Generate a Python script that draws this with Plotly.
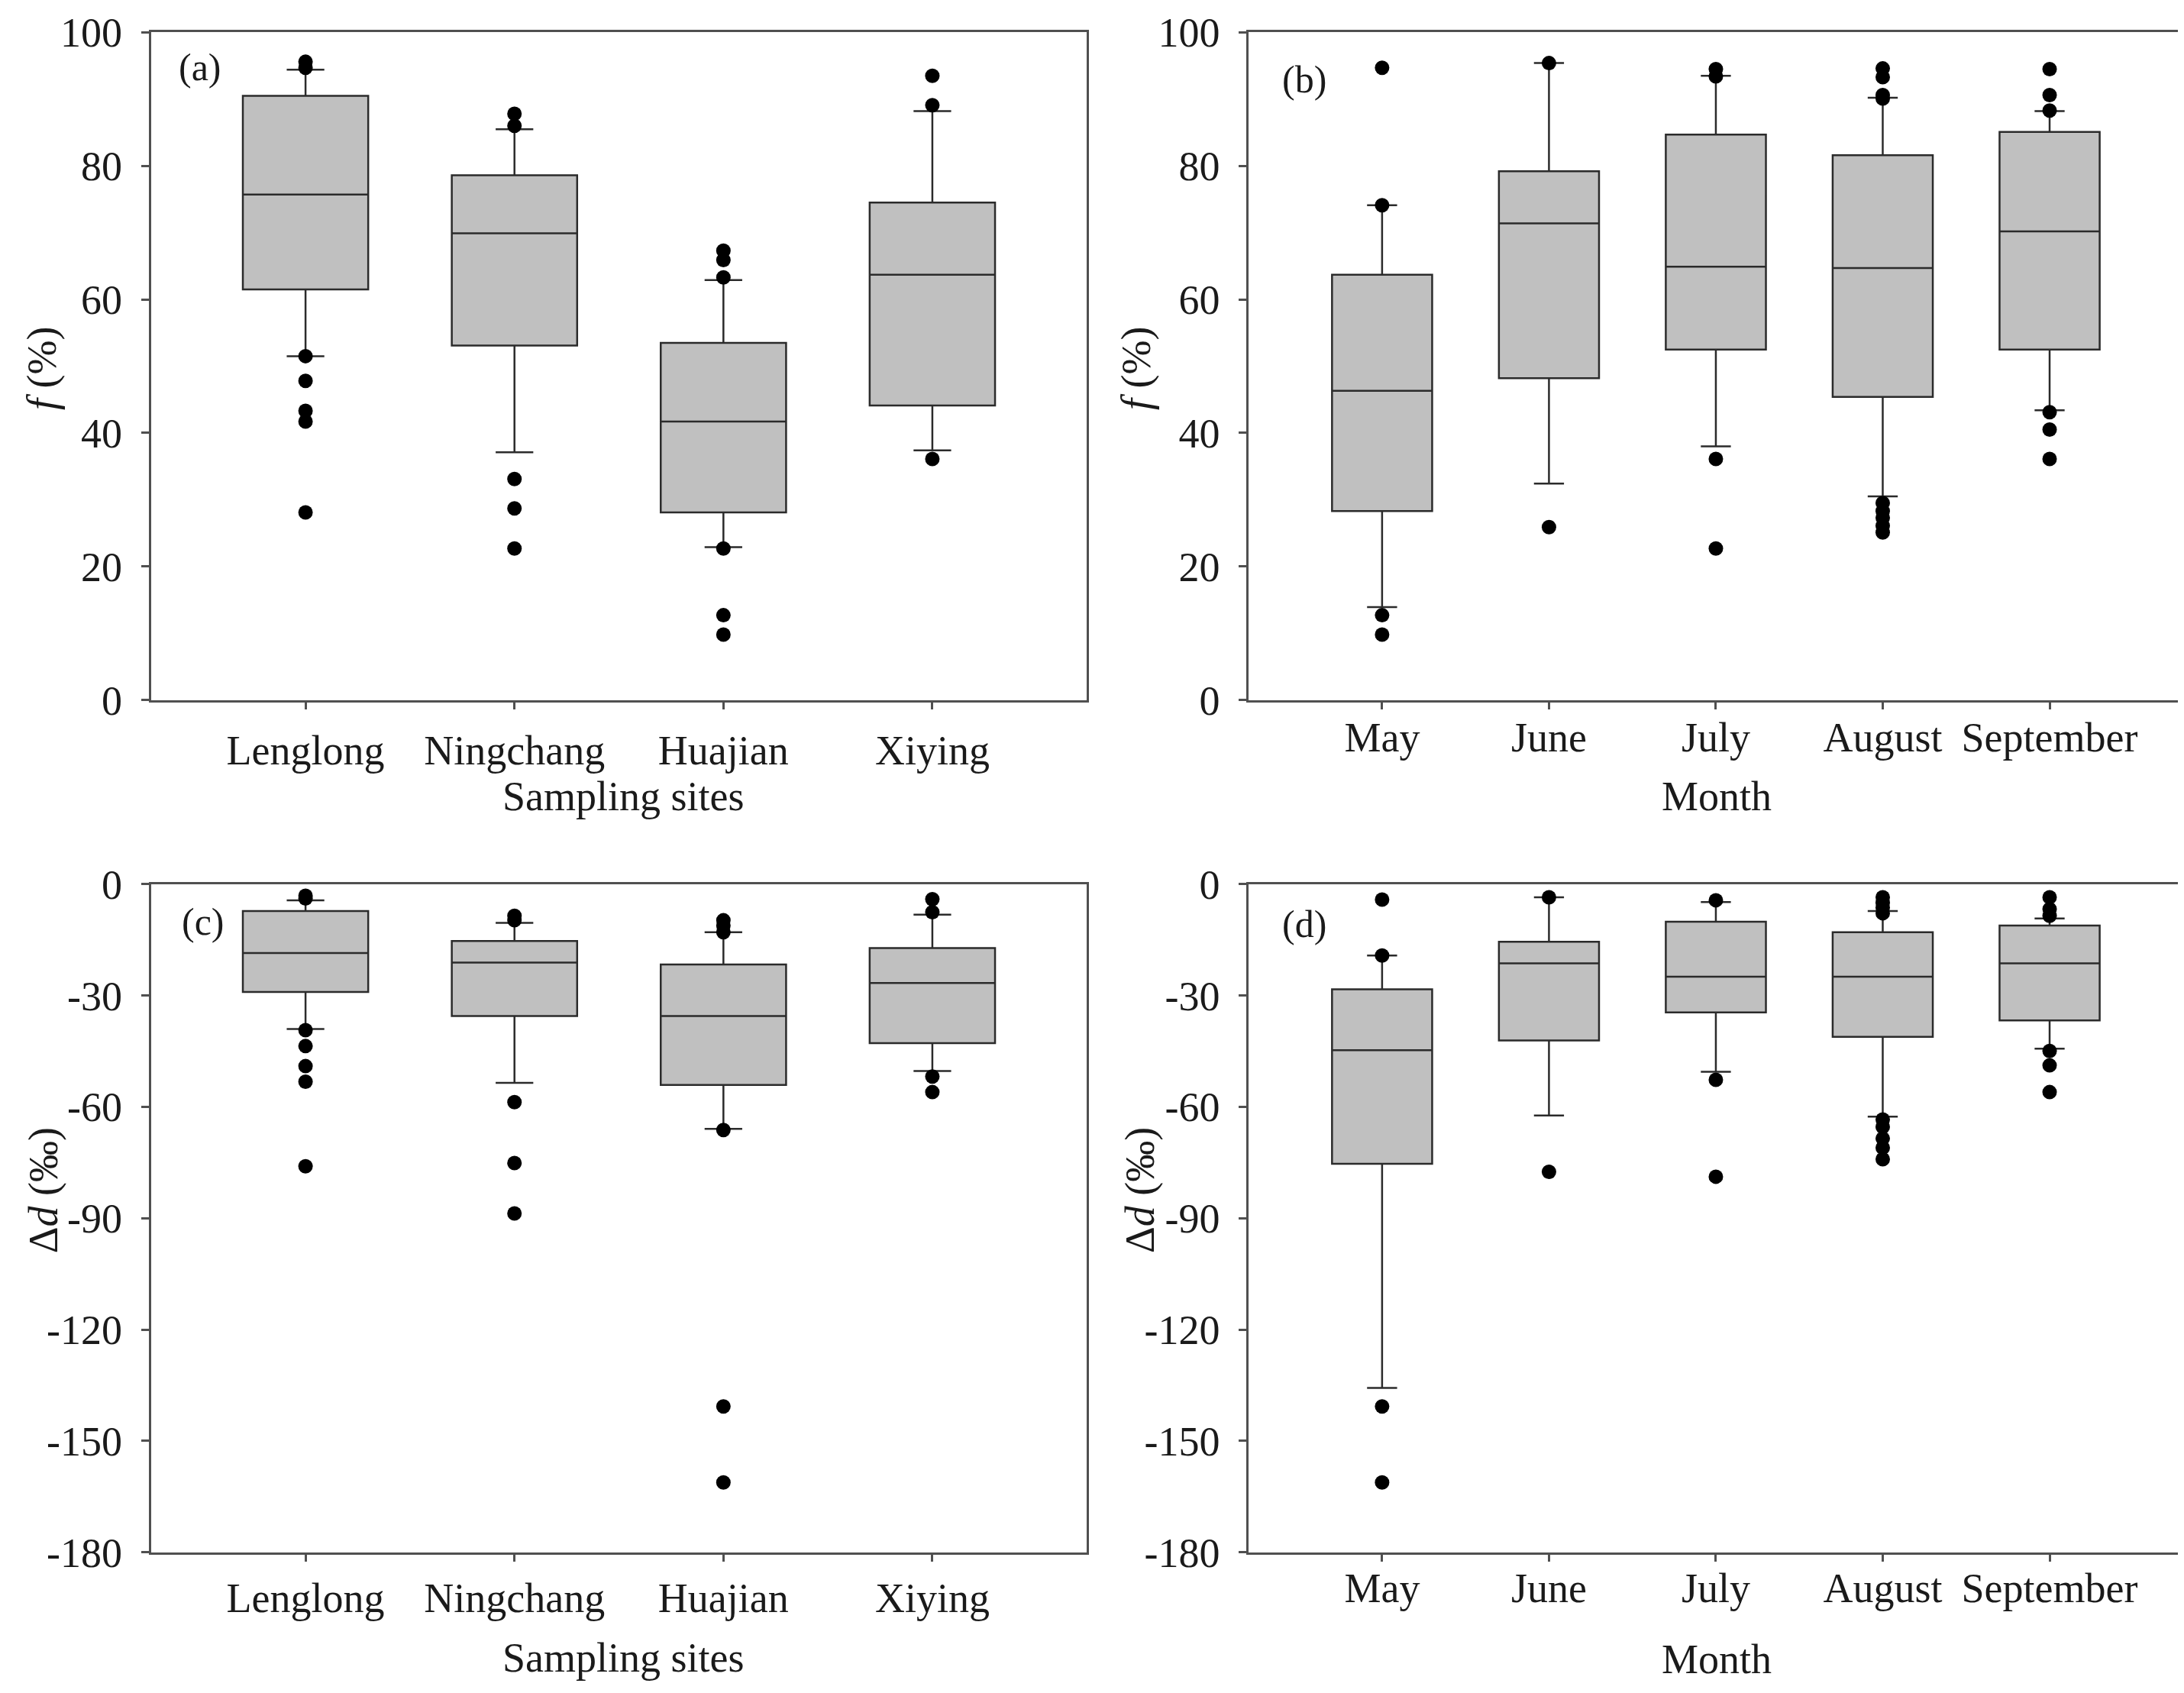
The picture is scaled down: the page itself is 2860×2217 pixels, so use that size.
import plotly.graph_objs as go
from plotly.subplots import make_subplots

sites = ["Lenglong", "Ningchang", "Huajian", "Xiying"]
months = ["May", "June", "July", "August", "September"]

# (a) f (%) by sampling site
f_site_lo = [51.5, 37.1, 22.9, 37.4]
f_site_q1 = [61.5, 53.1, 28.1, 44.1]
f_site_med = [75.7, 69.9, 41.7, 63.7]
f_site_q3 = [90.5, 78.6, 53.5, 74.5]
f_site_hi = [94.4, 85.5, 62.9, 88.2]
f_site_out = [
    [95.6, 94.7, 51.5, 47.8, 43.3, 41.7, 28.1],
    [87.8, 86.0, 33.1, 28.7, 22.7],
    [67.3, 65.9, 63.3, 22.7, 12.7, 9.8],
    [93.5, 89.1, 36.1],
]

# (b) f (%) by month
f_month_lo = [13.9, 32.4, 38.0, 30.5, 43.4]
f_month_q1 = [28.3, 48.2, 52.5, 45.4, 52.5]
f_month_med = [46.3, 71.4, 64.9, 64.7, 70.2]
f_month_q3 = [63.7, 79.2, 84.7, 81.6, 85.1]
f_month_hi = [74.1, 95.4, 93.5, 90.2, 88.2]
f_month_out = [
    [94.7, 74.1, 12.7, 9.8],
    [95.4, 25.9],
    [94.5, 93.4, 36.1, 22.7],
    [94.6, 93.3, 90.6, 90.1, 29.5, 28.3, 27.3, 26.1, 25.1],
    [94.5, 90.6, 88.3, 43.1, 40.5, 36.1],
]

# (c) delta d by sampling site
d_site_lo = [-39.0, -53.5, -65.9, -50.3]
d_site_q1 = [-29.0, -35.5, -54.1, -42.8]
d_site_med = [-18.5, -21.1, -35.5, -26.6]
d_site_q3 = [-7.2, -15.3, -21.6, -17.2]
d_site_hi = [-4.3, -10.4, -12.9, -8.2]
d_site_out = [
    [-3.1, -3.8, -39.3, -43.6, -49.0, -53.2, -76.0],
    [-8.5, -9.7, -58.7, -75.1, -88.7],
    [-9.7, -11.1, -12.9, -66.2, -140.7, -161.2],
    [-4.0, -7.5, -51.8, -56.0],
]

# (d) delta d by month
d_month_lo = [-135.7, -62.3, -50.5, -62.6, -44.3]
d_month_q1 = [-75.3, -42.1, -34.5, -41.1, -36.7]
d_month_med = [-44.7, -21.3, -24.9, -24.9, -21.3]
d_month_q3 = [-28.3, -15.5, -10.1, -12.9, -11.1]
d_month_hi = [-19.2, -3.5, -4.8, -7.2, -9.2]
d_month_out = [
    [-4.1, -19.2, -140.7, -161.2],
    [-3.5, -77.5],
    [-4.3, -52.7, -78.8],
    [-3.5, -5.0, -6.3, -7.8, -63.4, -65.4, -68.5, -71.0, -74.1],
    [-3.5, -6.7, -8.5, -44.9, -48.8, -56.0],
]

f_ticks = [0, 20, 40, 60, 80, 100]
f_ticktext = ["0", "20", "40", "60", "80", "100"]
d_ticks = [0, -30, -60, -90, -120, -150, -180]
d_ticktext = ["0", "-30", "-60", "-90", "-120", "-150", "-180"]

FONT = "Liberation Serif"
LINE = "#2b2b2b"
FRAME = "#505050"

fig = make_subplots(rows=2, cols=2)


def add_panel(row, col, cats, lo, q1, med, q3, hi, outs):
    fig.add_trace(go.Box(
        x=cats, q1=q1, median=med, q3=q3, lowerfence=lo, upperfence=hi,
        width=0.6, whiskerwidth=0.3, boxpoints=False,
        fillcolor="#c0c0c0", line=dict(color=LINE, width=2.5),
        showlegend=False, hoverinfo="skip",
    ), row=row, col=col)
    xs, ys = [], []
    for c, vals in zip(cats, outs):
        xs += [c] * len(vals)
        ys += vals
    fig.add_trace(go.Scatter(
        x=xs, y=ys, mode="markers",
        marker=dict(color="black", size=19),
        showlegend=False, hoverinfo="skip",
    ), row=row, col=col)


add_panel(1, 1, sites, f_site_lo, f_site_q1, f_site_med, f_site_q3, f_site_hi, f_site_out)
add_panel(1, 2, months, f_month_lo, f_month_q1, f_month_med, f_month_q3, f_month_hi, f_month_out)
add_panel(2, 1, sites, d_site_lo, d_site_q1, d_site_med, d_site_q3, d_site_hi, d_site_out)
add_panel(2, 2, months, d_month_lo, d_month_q1, d_month_med, d_month_q3, d_month_hi, d_month_out)

left_dom = [0.0663, 0.4949]
right_dom = [0.5689, 0.9968]
top_dom = [0.5922, 0.9975]
bot_dom = [0.0748, 0.4803]

axis_style = dict(
    showgrid=False, zeroline=False, showline=True, mirror=True,
    linecolor=FRAME, linewidth=2.5, ticks="outside", ticklen=10,
    tickwidth=2.5, tickcolor=FRAME,
    tickfont=dict(family=FONT, size=54, color="#1a1a1a"),
)

fig.update_xaxes(**axis_style)
fig.update_yaxes(**axis_style)

fig.update_xaxes(row=1, col=1, domain=left_dom, type="category", range=[-0.74, 3.74], ticklabelstandoff=7)
fig.update_xaxes(row=2, col=1, domain=left_dom, type="category", range=[-0.74, 3.74], ticklabelstandoff=1)
fig.update_xaxes(row=1, col=2, domain=right_dom, type="category", range=[-0.8, 4.8], ticklabelstandoff=-10)
fig.update_xaxes(row=2, col=2, domain=right_dom, type="category", range=[-0.8, 4.8], ticklabelstandoff=-12)

fig.update_yaxes(row=1, col=1, domain=top_dom, range=[0, 100], tickvals=f_ticks, ticktext=f_ticktext, ticklabelstandoff=14)
fig.update_yaxes(row=1, col=2, domain=top_dom, range=[0, 100], tickvals=f_ticks, ticktext=f_ticktext, ticklabelstandoff=14)
fig.update_yaxes(row=2, col=1, domain=bot_dom, range=[-180, 0], tickvals=d_ticks, ticktext=d_ticktext, ticklabelstandoff=14)
fig.update_yaxes(row=2, col=2, domain=bot_dom, range=[-180, 0], tickvals=d_ticks, ticktext=d_ticktext, ticklabelstandoff=14)

title_font = dict(family=FONT, size=54, color="#1a1a1a")
annotations = [
    # panel letters
    dict(text="(a)", xref="x domain", yref="y domain", x=0.028, y=0.948),
    dict(text="(b)", xref="x2 domain", yref="y2 domain", x=0.034, y=0.93),
    dict(text="(c)", xref="x3 domain", yref="y3 domain", x=0.031, y=0.944),
    dict(text="(d)", xref="x4 domain", yref="y4 domain", x=0.034, y=0.94),
]
for a in annotations:
    a.update(showarrow=False, xanchor="left", yanchor="middle",
             font=dict(family=FONT, size=50, color="#1a1a1a"))

axis_titles = [
    dict(text="<i>f</i> (%)", x=0.0165, y=0.7933, textangle=-90),
    dict(text="<i>f</i> (%)", x=0.5175, y=0.7933, textangle=-90),
    dict(text="Δ<i>d</i> (‰)", x=0.017, y=0.2946, textangle=-90),
    dict(text="Δ<i>d</i> (‰)", x=0.519, y=0.2946, textangle=-90),
    dict(text="Sampling sites", x=0.2826, y=0.5338, textangle=0),
    dict(text="Month", x=0.7832, y=0.5338, textangle=0),
    dict(text="Sampling sites", x=0.2826, y=0.0106, textangle=0),
    dict(text="Month", x=0.7832, y=0.0097, textangle=0),
]
for a in axis_titles:
    a.update(xref="paper", yref="paper", showarrow=False,
             xanchor="center", yanchor="middle", font=title_font)

fig.update_layout(
    width=2860, height=2217,
    margin=dict(l=0, r=0, t=0, b=0),
    plot_bgcolor="white", paper_bgcolor="white",
    annotations=annotations + axis_titles,
    font=dict(family=FONT),
)

fig.write_html("out.html", config={"displayModeBar": False})
